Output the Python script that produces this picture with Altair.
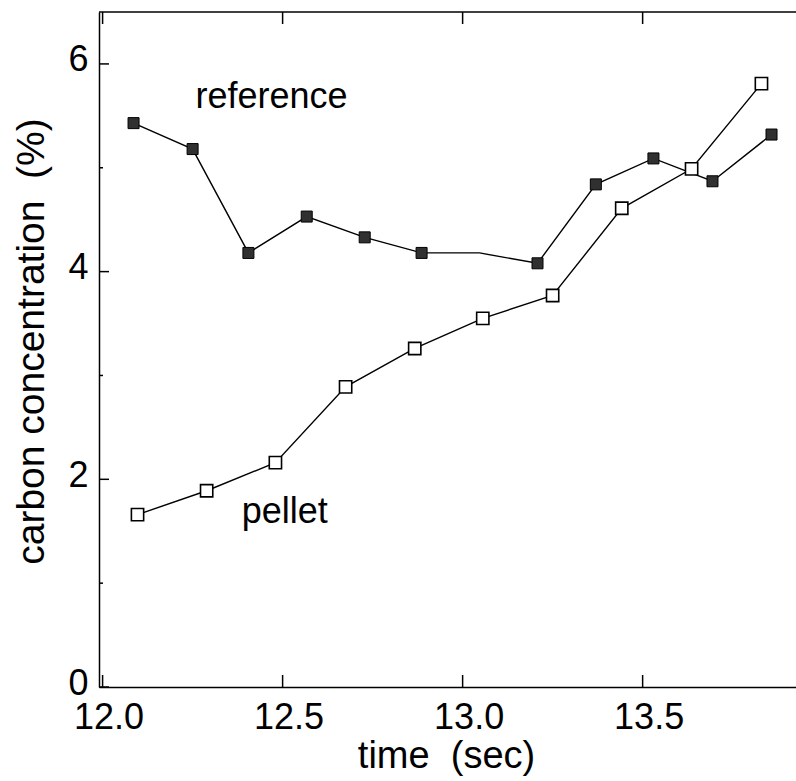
import altair as alt
import pandas as pd

# reference series (filled squares); one vertex has no marker
ref_time = [12.086, 12.25, 12.405, 12.567, 12.728, 12.886, 13.047, 13.208, 13.37, 13.53, 13.694, 13.858]
ref_conc = [5.43, 5.18, 4.18, 4.53, 4.33, 4.18, 4.18, 4.08, 4.84, 5.09, 4.87, 5.32]
ref_marker = [True, True, True, True, True, True, False, True, True, True, True, True]

# pellet series (open squares)
pel_time = [12.097, 12.289, 12.48, 12.675, 12.867, 13.056, 13.25, 13.442, 13.636, 13.83]
pel_conc = [1.66, 1.89, 2.16, 2.89, 3.26, 3.55, 3.77, 4.61, 4.99, 5.81]

# annotations
label_text = ["reference", "pellet"]
label_time = [12.469, 12.506]
label_conc = [5.578, 1.58]

# ticks
x_ticks = [12.0, 12.5, 13.0, 13.5]
y_major = [0, 2, 4, 6]
y_minor = [1, 3, 5]

ref_df = pd.DataFrame({"t": ref_time, "c": ref_conc, "m": ref_marker})
pel_df = pd.DataFrame({"t": pel_time, "c": pel_conc})
lab_df = pd.DataFrame({"t": label_time, "c": label_conc, "txt": label_text})
xt_df = pd.DataFrame({"t": x_ticks})
ymaj_df = pd.DataFrame({"c": y_major})
ymin_df = pd.DataFrame({"c": y_minor})

W, H = 697, 675

x_enc = alt.X(
    "t:Q",
    scale=alt.Scale(domain=[11.99, 13.926], nice=False, zero=False),
    axis=alt.Axis(
        values=x_ticks, format=".1f", ticks=False, grid=False,
        labelPadding=13, labelFontSize=36, labelOffset=6, labelFlush=False,
        labelColor="black",
        domainColor="black", domainWidth=1.5,
        title="time\u00a0 (sec)", titleFontSize=38, titleFontWeight="normal",
        titleColor="black", titleAlign="center", titleBaseline="alphabetic",
        titleX=347, titleY=80,
    ),
)
y_enc = alt.Y(
    "c:Q",
    scale=alt.Scale(domain=[0, 6.5], nice=False, zero=True),
    axis=alt.Axis(
        values=y_major, ticks=False, grid=False,
        labelPadding=11, labelFontSize=36, labelColor="black", labelFlush=False,
        labelOffset=-4,
        domainColor="black", domainWidth=1.5,
        title="carbon concentration\u00a0 (%)", titleFontSize=39,
        titleFontWeight="normal", titleColor="black",
        titleAlign="center", titleBaseline="alphabetic",
        titleX=-56, titleY=329,
    ),
)

ref_line = alt.Chart(ref_df).mark_line(color="black", strokeWidth=1.4).encode(
    x=x_enc, y=y_enc, order="t:Q"
)
ref_pts = alt.Chart(ref_df[ref_df["m"]]).mark_point(
    shape="square", filled=True, fill="#303030", stroke="black",
    strokeWidth=1, size=121, opacity=1
).encode(x=x_enc, y=y_enc)

pel_line = alt.Chart(pel_df).mark_line(color="black", strokeWidth=1.4).encode(
    x=x_enc, y=y_enc, order="t:Q"
)
pel_pts = alt.Chart(pel_df).mark_point(
    shape="square", filled=True, fill="white", stroke="black",
    strokeWidth=1.6, size=150, opacity=1
).encode(x=x_enc, y=y_enc)

labels = alt.Chart(lab_df).mark_text(
    fontSize=36, align="center", baseline="alphabetic", color="black"
).encode(x=x_enc, y=y_enc, text="txt:N")

y_major_ticks = alt.Chart(ymaj_df).mark_rule(color="black", strokeWidth=1.5).encode(
    y=y_enc, x=alt.value(0), x2=alt.value(10)
)
y_minor_ticks = alt.Chart(ymin_df).mark_rule(color="black", strokeWidth=1.5).encode(
    y=y_enc, x=alt.value(0), x2=alt.value(4)
)
x_bottom_ticks = alt.Chart(xt_df).mark_rule(color="black", strokeWidth=1.5).encode(
    x=x_enc, y=alt.value(H), y2=alt.value(H - 12)
)
x_top_ticks = alt.Chart(xt_df).mark_rule(color="black", strokeWidth=1.5).encode(
    x=x_enc, y=alt.value(0), y2=alt.value(12)
)
top_border = alt.Chart(xt_df.head(1)).mark_rule(color="black", strokeWidth=1.5).encode(
    x=alt.value(0), x2=alt.value(W), y=alt.value(0)
)

chart = alt.layer(
    top_border, y_major_ticks, y_minor_ticks, x_bottom_ticks, x_top_ticks,
    ref_line, pel_line, ref_pts, pel_pts, labels,
).properties(
    width=W, height=H,
    autosize=alt.AutoSizeParams(type="none"),
    padding={"left": 99, "top": 12, "right": 0, "bottom": 94},
).configure(
    font="Liberation Sans", background="white"
).configure_view(stroke=None)

chart.save("out.html", embed_options={"renderer": "svg", "actions": False})
